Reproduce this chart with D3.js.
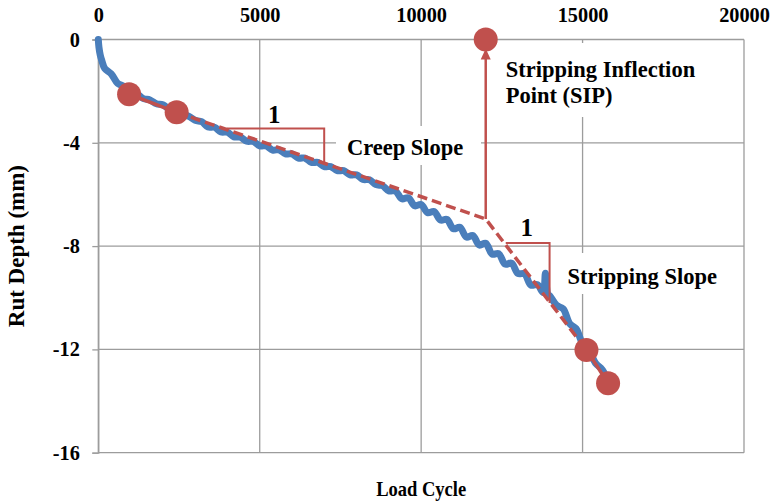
<!DOCTYPE html>
<html>
<head>
<meta charset="utf-8">
<script src="https://cdn.jsdelivr.net/npm/d3@7"></script>
<style>
  body { margin: 0; background: #fff; }
  svg text { font-family: "Liberation Serif", "DejaVu Serif", "Times New Roman", serif !important; font-weight: bold; fill: #000; }
</style>
</head>
<body>
<div id="chart"></div>
<script>
// Data
const xTicks = [0, 5000, 10000, 15000, 20000]
const yTicks = [0, -4, -8, -12, -16]

// measured rut depth curve (load cycle, mm)
const loadCycles = [0, 20, 60, 105, 200, 400, 600, 800, 1000, 1200, 1400, 1600, 1800, 2000,
  2200, 2400, 2600, 2800, 3000, 3200, 3400, 3600, 3800, 4000, 4200, 4400, 4600, 4800, 5000,
  5200, 5400, 5600, 5800, 6000, 6200, 6400, 6600, 6800, 7000, 7200, 7400, 7600, 7800, 8000,
  8200, 8400, 8600, 8800, 9000, 9200, 9400, 9600, 9800, 10000, 10200, 10400, 10600, 10800,
  11000, 11200, 11400, 11600, 11800, 12000, 12200, 12400, 12600, 12800, 13000, 13200, 13400,
  13600, 13780, 13850, 13920, 14000, 14200, 14400, 14600, 14800, 15000, 15200, 15400, 15600, 15750]
const rutDepth = [0, -0.3, -0.6, -0.8, -1.12, -1.33, -1.70, -1.82, -2.06, -2.11, -2.29, -2.34, -2.49, -2.53,
  -2.70, -2.76, -2.92, -2.97, -3.13, -3.18, -3.39, -3.40, -3.58, -3.59, -3.77, -3.78, -3.94, -3.95, -4.12,
  -4.12, -4.28, -4.27, -4.43, -4.43, -4.59, -4.59, -4.76, -4.76, -4.92, -4.92, -5.08, -5.08, -5.24, -5.24,
  -5.42, -5.43, -5.62, -5.66, -5.86, -5.86, -6.17, -6.13, -6.44, -6.39, -6.71, -6.66, -6.99, -6.97,
  -7.33, -7.27, -7.65, -7.59, -7.96, -7.89, -8.31, -8.29, -8.70, -8.66, -9.06, -9.07, -9.51,
  -9.49, -9.80, -9.05, -9.85, -9.95, -10.30, -10.43, -11.00, -11.20, -11.78, -12.04, -12.53, -12.77, -13.10]

// red markers
const creepPoints = [[954, -2.12], [2427, -2.82]]
const stripPoints = [[15120, -12.02], [15790, -13.31]]
const sipPoint = [12000, 0]
const kneePoint = [12000, -6.95]

// slope triangles
const creepTriangle = [[3975, -3.45], [6997, -3.45], [6997, -4.80]]
const stripTriangle = [[12620, -7.88], [13978, -7.88], [13978, -10.2]]

// Dimensions
let dimensions = {
  width: 773,
  height: 502,
  margin: { top: 39.5, bottom: 49.3, left: 98.3, right: 29 }
}

const svg = d3.select('#chart')
  .append('svg')
  .attr('width', dimensions.width)
  .attr('height', dimensions.height)

// Scales
const xScale = d3.scaleLinear()
  .domain([0, 20000])
  .range([dimensions.margin.left, dimensions.width - dimensions.margin.right])

const yScale = d3.scaleLinear()
  .domain([-16, 0])
  .range([dimensions.height - dimensions.margin.bottom, dimensions.margin.top])

const red = '#c0504d'
const gridColor = '#9c9c9c'

// Gridlines
svg.append('g')
  .selectAll('line')
  .data(xTicks)
  .join('line')
  .attr('x1', d => xScale(d)).attr('x2', d => xScale(d))
  .attr('y1', yScale(0)).attr('y2', yScale(-16))
  .attr('stroke', gridColor).attr('stroke-width', 1.3)

svg.append('g')
  .selectAll('line')
  .data(yTicks)
  .join('line')
  .attr('x1', xScale(0)).attr('x2', xScale(20000))
  .attr('y1', d => yScale(d)).attr('y2', d => yScale(d))
  .attr('stroke', gridColor).attr('stroke-width', 1.3)

// Axes
const xAxis = d3.axisTop(xScale)
  .tickValues(xTicks)
  .tickSize(0)
  .tickPadding(18)
  .tickFormat(d => String(d))

const yAxis = d3.axisLeft(yScale)
  .tickValues(yTicks)
  .tickSize(6)
  .tickPadding(12.5)
  .tickFormat(d => String(d))

const xAxisGroup = svg.append('g')
  .attr('transform', `translate(0, ${yScale(0)})`)
  .call(xAxis)
  .attr('font-family', null)
xAxisGroup.select('.domain').remove()
xAxisGroup.selectAll('text').style('font-size', '20.3px')

const yAxisGroup = svg.append('g')
  .attr('transform', `translate(${xScale(0)}, 0)`)
  .call(yAxis)
  .attr('font-family', null)
yAxisGroup.select('.domain').attr('stroke', gridColor).attr('stroke-width', 1.3)
yAxisGroup.selectAll('line').attr('stroke', gridColor).attr('stroke-width', 1.3)
yAxisGroup.selectAll('text').style('font-size', '20.3px')

// Axis titles (the x title is a little condensed in the source)
svg.append('text')
  .attr('x', (xScale(0) + xScale(20000)) / 2 - 45)
  .attr('y', 496)
  .attr('textLength', 90)
  .attr('lengthAdjust', 'spacingAndGlyphs')
  .style('font-size', '21.5px')
  .text('Load Cycle')

svg.append('text')
  .attr('transform', `translate(24, ${(yScale(0) + yScale(-16)) / 2}) rotate(-90)`)
  .attr('text-anchor', 'middle')
  .style('font-size', '23px')
  .text('Rut Depth (mm)')

// Rut depth curve
const curveData = loadCycles.map((c, i) => [c, rutDepth[i]])
const line = d3.line()
  .x(d => xScale(d[0]))
  .y(d => yScale(d[1]))

svg.append('path')
  .datum(curveData)
  .attr('d', line.curve(d3.curveCatmullRom.alpha(0.5)))
  .attr('fill', 'none')
  .attr('stroke', '#4a7ebb')
  .attr('stroke-width', 7)
  .attr('stroke-linejoin', 'round')
  .attr('stroke-linecap', 'round')

const straight = d3.line()
  .x(d => xScale(d[0]))
  .y(d => yScale(d[1]))

// Slope lines (dashed)
svg.append('path')
  .attr('d', straight([creepPoints[1], kneePoint, stripPoints[0]]))
  .attr('fill', 'none')
  .attr('stroke', red)
  .attr('stroke-width', 3.5)
  .attr('stroke-dasharray', '10,5')

// Solid segments between markers
svg.append('path')
  .attr('d', straight(creepPoints))
  .attr('fill', 'none').attr('stroke', red).attr('stroke-width', 3.5)
svg.append('path')
  .attr('d', straight(stripPoints))
  .attr('fill', 'none').attr('stroke', red).attr('stroke-width', 3.5)

// Slope triangles
svg.append('path')
  .attr('d', straight(creepTriangle))
  .attr('fill', 'none').attr('stroke', red).attr('stroke-width', 2)
svg.append('path')
  .attr('d', straight(stripTriangle))
  .attr('fill', 'none').attr('stroke', red).attr('stroke-width', 2)

// Arrow up to SIP
const arrowTip = yScale(0) + 9
svg.append('line')
  .attr('x1', xScale(kneePoint[0])).attr('x2', xScale(kneePoint[0]))
  .attr('y1', yScale(kneePoint[1])).attr('y2', arrowTip + 8)
  .attr('stroke', red).attr('stroke-width', 2.5)
svg.append('path')
  .attr('d', `M${xScale(kneePoint[0])},${arrowTip} l5,11 l-10,0 z`)
  .attr('fill', red)

// Markers
svg.append('g')
  .selectAll('circle')
  .data([...creepPoints, ...stripPoints, sipPoint])
  .join('circle')
  .attr('cx', d => xScale(d[0]))
  .attr('cy', d => yScale(d[1]))
  .attr('r', 12)
  .attr('fill', red)

// Labels with white boxes
function label(lines, x, y, box, size) {
  svg.append('rect')
    .attr('x', box[0]).attr('y', box[1])
    .attr('width', box[2]).attr('height', box[3])
    .attr('fill', '#fff')
  const t = svg.append('text')
    .attr('x', x).attr('y', y)
    .style('font-size', size + 'px')
  lines.forEach((l, i) => {
    t.append('tspan').attr('x', x).attr('dy', i === 0 ? 0 : 26).text(l)
  })
}

label(['Creep Slope'], xScale(7700), yScale(-4.47), [336, 126, 145, 39], 22.5)
label(['Stripping Inflection', 'Point (SIP)'], xScale(12620), yScale(-1.45), [497, 43, 220, 74], 22.5)
label(['Stripping Slope'], xScale(14533), yScale(-9.45), [557, 253, 172, 41], 22.5)

// Slope "1" marks
svg.append('text')
  .attr('x', xScale(5450)).attr('y', yScale(-3.24))
  .attr('text-anchor', 'middle')
  .style('font-size', '25px')
  .text('1')
svg.append('text')
  .attr('x', xScale(13270)).attr('y', yScale(-7.62))
  .attr('text-anchor', 'middle')
  .style('font-size', '25px')
  .text('1')
</script>
</body>
</html>
